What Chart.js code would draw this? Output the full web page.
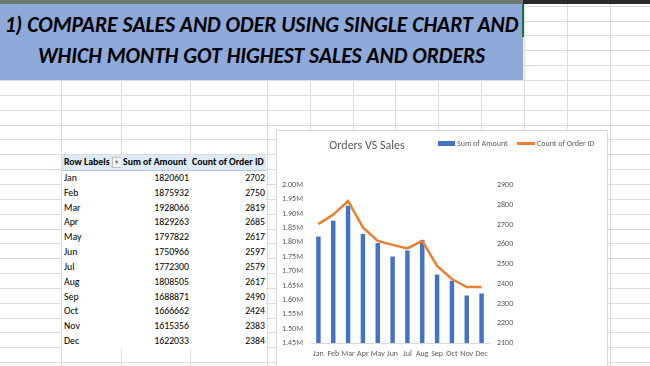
<!DOCTYPE html>
<html>
<head>
<meta charset="utf-8">
<script src="https://cdn.jsdelivr.net/npm/chart.js@4.4.1/dist/chart.umd.min.js"></script>
<style>
  html, body { margin: 0; padding: 0; width: 650px; height: 366px; overflow: hidden; background: #fff; }
  body { font-family: Calibri, Carlito, Lato, sans-serif; position: relative; }
  .gl { position: absolute; background: #dcdcdc; }
  #strip1 { position: absolute; left: 0; top: 0; width: 523px; height: 4px; background: #6f786f; }
  #strip2 { position: absolute; left: 523px; top: 0; width: 127px; height: 4px; background: #2a2a2a; }
  #titlebox { position: absolute; left: 0; top: 4px; width: 523px; height: 76px; background: #8eaadb; }
  #titlebox div { position: absolute; left: 0; width: 523px; text-align: center; font-weight: bold; font-style: italic; font-size: 21.6px; color: #000; white-space: nowrap; line-height: 24px; }
  #sel { position: absolute; left: 522px; top: 4px; width: 2px; height: 33px; background: #217346; }
  #pivot { position: absolute; left: 62px; top: 155px; width: 204px; background: #fff; border-collapse: collapse; table-layout: fixed; font-size: 9.8px; color: #000; }
  #pivot td, #pivot th { height: 14.85px; padding: 0 1px 0 2px; line-height: 14.85px; white-space: nowrap; overflow: hidden; }
  #pivot th { background: #ddebf7; font-weight: bold; text-align: left; border-bottom: 1px solid #b4c6e7; }
  #pivot td.n { text-align: right; }
  .dd { display: inline-block; width: 8px; height: 9px; border: 1px solid #c0c0c0; background: #f3f3f3; color: #777; font-size: 6px; line-height: 9px; text-align: center; vertical-align: middle; margin-left: 2px; }
  #chartbox { position: absolute; left: 276px; top: 130px; width: 330px; height: 250px; border: 1px solid #d9d9d9; background: #fff; }
  #chartbox canvas { position: absolute; left: 0; top: 0; }
  #ctitle { position: absolute; left: 317px; top: 138px; width: 100px; text-align: center; font-size: 12px; color: #595959; }
  .lg { position: absolute; font-size: 8px; color: #595959; white-space: nowrap; line-height: 10px; }
  .sw1 { position: absolute; left: 438px; top: 141px; width: 17px; height: 5px; background: #4472c4; }
  .sw2 { position: absolute; left: 517px; top: 142px; width: 18px; height: 2.5px; background: #ed7d31; }
</style>
</head>
<body>
<div id="grid"></div>
<div id="strip1"></div>
<div id="strip2"></div>
<div id="titlebox">
  <div style="top:9px">1) COMPARE SALES AND ODER USING SINGLE CHART AND</div>
  <div style="top:40px">WHICH MONTH GOT HIGHEST SALES AND ORDERS</div>
</div>
<div id="sel"></div>
<table id="pivot">
  <colgroup><col style="width:59px"><col style="width:69px"><col style="width:76px"></colgroup>
  <thead><tr><th>Row Labels<span class="dd">&#9662;</span></th><th>Sum of Amount</th><th>Count of Order ID</th></tr></thead>
  <tbody id="rows"></tbody>
</table>
<div id="chartbox"><canvas id="c" width="330" height="236"></canvas></div>
<div id="ctitle">Orders VS Sales</div>
<div class="sw1"></div><div class="lg" style="left:457px;top:138px">Sum of Amount</div>
<div class="sw2"></div><div class="lg" style="left:537px;top:138px">Count of Order ID</div>
<script>
const months = ['Jan', 'Feb', 'Mar', 'Apr', 'May', 'Jun', 'Jul', 'Aug', 'Sep', 'Oct', 'Nov', 'Dec'];
const amounts = [1820601, 1875932, 1928066, 1829263, 1797822, 1750966, 1772300, 1808505, 1688871, 1666662, 1615356, 1622033];
const orders = [2702, 2750, 2819, 2685, 2617, 2597, 2579, 2617, 2490, 2424, 2383, 2384];

// sheet grid lines
const grid = document.getElementById('grid');
const colX = [61, 121, 190, 267, 310, 353, 395, 438, 481, 524, 567, 610];
colX.forEach(x => {
  const d = document.createElement('div');
  d.className = 'gl';
  d.style.cssText = `left:${x}px;top:0;width:1px;height:366px`;
  grid.appendChild(d);
});
for (let k = -5; k < 20; k++) {
  const y = Math.round(80 + k * 14.85);
  const d = document.createElement('div');
  d.className = 'gl';
  d.style.cssText = `left:0;top:${y}px;width:650px;height:1px`;
  grid.appendChild(d);
}

// pivot table rows
const tb = document.getElementById('rows');
months.forEach((m, i) => {
  const tr = document.createElement('tr');
  tr.innerHTML = `<td>${m}</td><td class="n">${amounts[i]}</td><td class="n">${orders[i]}</td>`;
  tb.appendChild(tr);
});

const tickFont = { family: 'Calibri, Carlito, Lato, sans-serif', size: 8 };
const tickColor = '#595959';

new Chart(document.getElementById('c'), {
  data: {
    labels: months,
    datasets: [
      {
        type: 'line',
        label: 'Count of Order ID',
        data: orders,
        yAxisID: 'y1',
        borderColor: '#ED7D31',
        borderWidth: 2.5,
        pointRadius: 0,
        tension: 0,
        order: 0
      },
      {
        type: 'bar',
        label: 'Sum of Amount',
        data: amounts,
        yAxisID: 'y',
        backgroundColor: '#4472C4',
        barPercentage: 0.3,
        categoryPercentage: 1,
        order: 1
      }
    ]
  },
  options: {
    responsive: false,
    animation: false,
    layout: { padding: { top: 54, right: 78, bottom: 4, left: 0 } },
    plugins: { legend: { display: false }, title: { display: false }, tooltip: { enabled: false } },
    scales: {
      x: {
        grid: { display: false, drawTicks: false },
        border: { display: true, color: '#d9d9d9' },
        ticks: { autoSkip: false, maxRotation: 0, minRotation: 0, padding: 6, color: tickColor, font: tickFont },
        afterFit(s) { s.height = 20; }
      },
      y: {
        position: 'left',
        min: 1450000,
        max: 2000000,
        grid: { display: false, drawTicks: false },
        border: { display: false },
        ticks: {
          stepSize: 50000,
          padding: 8,
          color: tickColor,
          font: tickFont,
          callback: v => (v / 1e6).toFixed(2) + 'M'
        },
        afterFit(s) { s.width = 34; }
      },
      y1: {
        position: 'right',
        min: 2100,
        max: 2900,
        grid: { display: false, drawTicks: false },
        border: { display: false },
        ticks: { stepSize: 100, padding: 8, color: tickColor, font: tickFont, callback: v => String(v) },
        afterFit(s) { s.width = 40; }
      }
    }
  }
});
</script>
</body>
</html>
